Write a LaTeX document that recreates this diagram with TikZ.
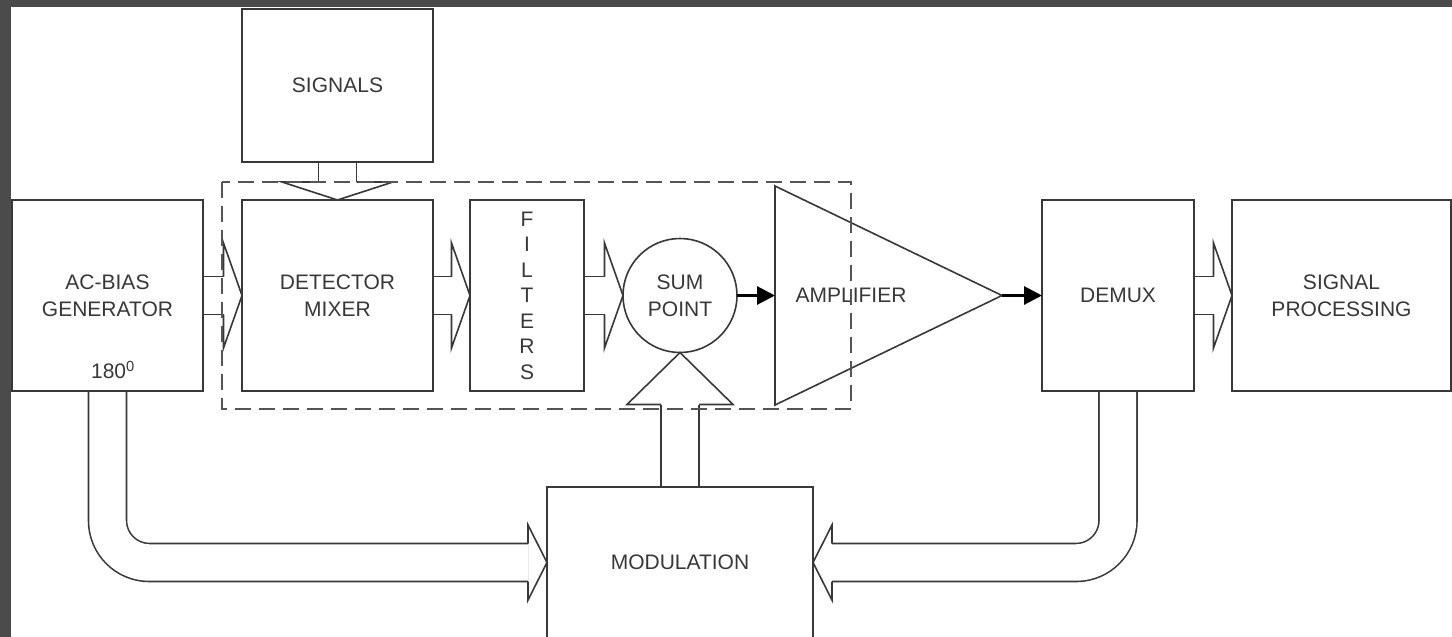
\documentclass[tikz,border=0pt]{standalone}
\usepackage{fontspec}
\setmainfont{Liberation Sans}
\usetikzlibrary{calc,arrows.meta,backgrounds}

\definecolor{framegray}{HTML}{4B4B4B}
\definecolor{inkgray}{HTML}{383838}
\definecolor{dashgray}{HTML}{555555}

\tikzset{
  block/.style={draw=inkgray, line width=1.6pt, inner sep=0pt, outer sep=0pt,
    text=inkgray, align=center, font=\fontsize{21}{27}\selectfont},
  shaft/.style={draw=inkgray, line width=1.6pt, double=white, double distance=36.4pt},
  outline/.style={draw=inkgray, line width=1.6pt, line join=miter},
  signal/.style={line width=3pt, -{Triangle[length=18pt,width=18pt]}},
  group/.style={draw=dashgray, line width=2pt, dash pattern=on 16pt off 8pt}
}

% hollow arrow head: tip, base centre, half width
\newcommand\blockhead[3]{%
  \draw[outline] ($(#2)!19pt!90:(#1)$) -- ($(#2)!#3!90:(#1)$) -- (#1)
    -- ($(#2)!#3!-90:(#1)$) -- ($(#2)!19pt!-90:(#1)$);
}

\begin{document}
\begin{tikzpicture}[x=1pt,y=-1pt]
\useasboundingbox (0,0) rectangle (1452,637);
\clip (0,0) rectangle (1452,637);
\begin{scope}[on background layer]
\fill[framegray] (0,0) rectangle (1452,637);
\fill[white] (11,7) rectangle (1452,637);
\end{scope}

% blocks
\node[block, minimum width=191pt, minimum height=153pt] (signals) at (337.5,85.5) {SIGNALS};
\node[block, minimum width=191pt, minimum height=191pt] (acbias) at (107.5,295.5) {AC-BIAS\\GENERATOR};
\node[block, minimum width=191pt, minimum height=191pt] (detector) at (337.5,295.5) {DETECTOR\\MIXER};
\node[block, minimum width=114pt, minimum height=191pt,
  font=\fontsize{21}{25.5}\selectfont] (filters) at (527,295.5) {F\\I\\L\\T\\E\\R\\S};
\node[block, circle, minimum size=114pt] (sum) at (680,295.5) {SUM\\POINT};
\node[block, minimum width=152pt, minimum height=191pt] (demux) at (1118,295.5) {DEMUX};
\node[block, minimum width=219pt, minimum height=191pt] (sigproc) at (1341.5,295.5) {SIGNAL\\PROCESSING};
\node[block, minimum width=266pt, minimum height=151pt] (modulation) at (680,562.5) {MODULATION};
\node[block, draw=none] (phase) at (113,370) {180\textsuperscript{0}};

% amplifier
\coordinate (ampin) at (775,295.5);
\coordinate (ampout) at (1002,295.5);
\draw[outline] (775,186) -- (ampout) -- (775,405) -- cycle;
\node[block, draw=none] (amplabel) at (851,295.5) {AMPLIFIER};

% hollow arrows
\foreach \a/\b in {acbias/detector,detector/filters,filters/sum,demux/sigproc}{
  \coordinate (base) at ($(\b.west)+(-18.5,0)$);
  \begin{scope}[on background layer]
  \draw[shaft] (\a.east) -- (base);
  \end{scope}
  \blockhead{\b.west}{base}{52.5pt}
}
\begin{scope}[on background layer]
\draw[shaft] (signals.south) -- ($(detector.north)+(0,-18)$);
\draw[shaft] (modulation.north) -- ($(sum.south)+(0,52)$);
\draw[shaft, rounded corners=42pt] (acbias.south) |- ($(modulation.west)+(-19,0)$);
\draw[shaft, rounded corners=42pt] (demux.south) |- ($(modulation.east)+(19,0)$);
\end{scope}
\blockhead{detector.north}{$(detector.north)+(0,-18)$}{55.5pt}
\blockhead{sum.south}{$(sum.south)+(0,52)$}{53pt}
\blockhead{modulation.west}{$(modulation.west)+(-19,0)$}{37.5pt}
\blockhead{modulation.east}{$(modulation.east)+(19,0)$}{37.5pt}

% signal path
\draw[signal] (sum.east) -- (ampin);
\draw[signal] (ampout) -- (demux.west);

\draw[group] (222,182) rectangle (851,409);
\end{tikzpicture}
\end{document}
